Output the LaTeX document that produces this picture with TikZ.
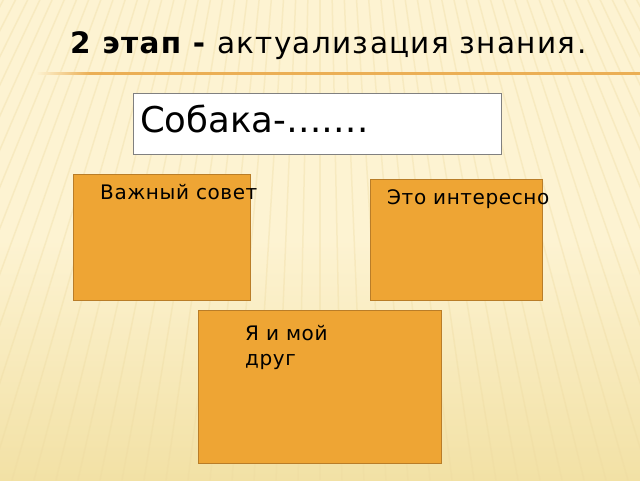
\documentclass[tikz,border=0pt]{standalone}
\usepackage{fontspec}
\setmainfont{DejaVu Sans}
\definecolor{bgtop}{RGB}{253,243,210}
\definecolor{bgbot}{RGB}{242,225,165}
\definecolor{stripe}{RGB}{238,218,160}
\definecolor{boxfill}{RGB}{238,165,52}
\definecolor{boxline}{RGB}{185,125,40}
\definecolor{rule}{RGB}{235,175,85}
\tikzset{
  obox/.style={draw=boxline, line width=1.4pt, fill=boxfill},
  lbl/.style={inner sep=0pt, anchor=base west, font=\fontsize{20}{25}\selectfont\addfontfeature{LetterSpace=3}},
}
\begin{document}
\begin{tikzpicture}[x=1pt,y=-1pt]
\useasboundingbox (0,0) rectangle (640,480);
\shade[top color=bgtop, bottom color=bgbot, middle color=bgtop] (0,0) rectangle (640,480);
\begin{scope}
\clip (0,0) rectangle (640,480);
\foreach \i in {-60,...,60} {
  \draw[stripe, line width=1.5pt, opacity=0.35] (320+\i*4,-400) -- (320+\i*22,480);
}
\end{scope}
\node[inner sep=0pt, anchor=base west, font=\fontsize{29.5}{34}\selectfont\addfontfeature{LetterSpace=4.5}] (title) at (70,53) {\textbf{2 этап -} актуализация знания.};
\shade[left color=bgtop, right color=rule] (36,72) rectangle (90,74.5);
\fill[rule] (89.5,72) rectangle (640,74.5);
\node[draw=gray, line width=0.8pt, fill=white, minimum width=368pt, minimum height=61pt, anchor=north west] (sob) at (133,93) {};
\node[inner sep=0pt, anchor=base west, font=\fontsize{35.5}{40}\selectfont] (sobt) at (140,132) {Собака-…….};
\node[obox, minimum width=177pt, minimum height=126pt, anchor=north west] (b1) at (73,174) {};
\node[lbl] (t1) at (100,199) {Важный совет};
\node[obox, minimum width=172pt, minimum height=121pt, anchor=north west] (b2) at (370,179) {};
\node[lbl] (t2) at (387,204) {Это интересно};
\node[obox, minimum width=243pt, minimum height=153pt, anchor=north west] (b3) at (198,310) {};
\node[lbl, align=left, anchor=north west] (t3) at (245,325) {Я и мой\\друг};
\end{tikzpicture}
\end{document}
